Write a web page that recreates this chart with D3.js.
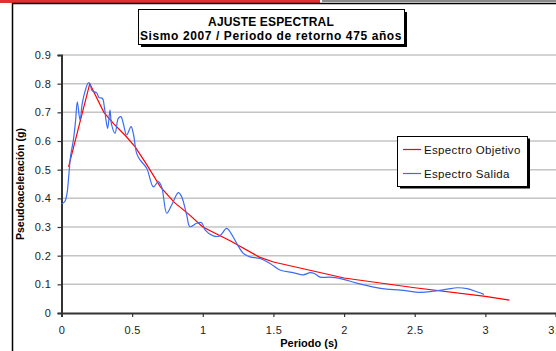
<!DOCTYPE html>
<html>
<head>
<meta charset="utf-8">
<script src="https://cdn.jsdelivr.net/npm/d3@7"></script>
<style>
  body { margin: 0; background: #fff; }
  svg { font-family: "Liberation Sans", Arial, sans-serif; }
</style>
</head>
<body>
<svg id="chart" width="556" height="351"></svg>
<script>
  // Espectro Objetivo (target spectrum)
  var objetivoT = [0.05, 0.2, 0.3, 0.37, 0.45, 0.52, 0.6, 0.7, 0.8, 0.9, 1.0, 1.2, 1.4, 1.5, 1.75, 2.0, 2.5, 3.0, 3.17];
  var objetivoSa = [0.51, 0.8, 0.70, 0.66, 0.62, 0.58, 0.52, 0.44, 0.385, 0.345, 0.30, 0.25, 0.195, 0.178, 0.15, 0.122, 0.088, 0.058, 0.045];

  // Espectro Salida (output spectrum)
  var salidaT = [0, 0.025, 0.04, 0.05, 0.065, 0.084, 0.1, 0.112, 0.131, 0.147, 0.166, 0.19, 0.2, 0.218, 0.249, 0.265,
    0.289, 0.303, 0.315, 0.327, 0.343, 0.355, 0.379, 0.402, 0.421, 0.437, 0.461, 0.492, 0.508, 0.532, 0.556,
    0.603, 0.65, 0.685, 0.709, 0.745, 0.78, 0.827, 0.85, 0.886, 0.909, 0.957, 0.992, 1.016, 1.074, 1.12,
    1.169, 1.2, 1.24, 1.287, 1.334, 1.405, 1.476, 1.546, 1.64, 1.711, 1.76, 1.79, 1.83, 1.9, 1.97, 2.09,
    2.21, 2.3, 2.4, 2.54, 2.63, 2.73, 2.8, 2.87, 2.94, 2.99];
  var salidaSa = [0.38, 0.39, 0.42, 0.47, 0.55, 0.603, 0.673, 0.737, 0.673, 0.731, 0.772, 0.803, 0.80, 0.775, 0.768, 0.752,
    0.749, 0.72, 0.673, 0.644, 0.708, 0.656, 0.627, 0.679, 0.685, 0.662, 0.621, 0.65, 0.627, 0.557, 0.534,
    0.505, 0.44, 0.458, 0.44, 0.348, 0.377, 0.42, 0.406, 0.342, 0.301, 0.313, 0.315, 0.29, 0.269, 0.269,
    0.295, 0.278, 0.243, 0.208, 0.196, 0.19, 0.173, 0.15, 0.141, 0.133, 0.141, 0.138, 0.125, 0.125, 0.121, 0.104,
    0.09, 0.083, 0.08, 0.072, 0.076, 0.083, 0.088, 0.085, 0.074, 0.065];

  var xTicks = [0, 0.5, 1, 1.5, 2, 2.5, 3, 3.5];
  var yTicks = [0, 0.1, 0.2, 0.3, 0.4, 0.5, 0.6, 0.7, 0.8, 0.9];

  var svg = d3.select("#chart");

  // top strip and outer frame
  svg.append("rect").attr("x", 0).attr("y", 0).attr("width", 320).attr("height", 3).attr("fill", "#e03030");
  svg.append("rect").attr("x", 322).attr("y", 0).attr("width", 234).attr("height", 2).attr("fill", "#8a8a8a");
  svg.append("line").attr("x1", 12.5).attr("x2", 12.5).attr("y1", 3).attr("y2", 351).attr("stroke", "#000").attr("stroke-width", 1.5);
  svg.append("line").attr("x1", 12).attr("x2", 556).attr("y1", 3.5).attr("y2", 3.5).attr("stroke", "#000").attr("stroke-width", 1.5);

  var x = d3.scaleLinear().domain([0, 3.5]).range([61.5, 556]);
  var y = d3.scaleLinear().domain([0, 0.9]).range([313, 55]);

  // gridlines
  svg.append("g")
    .selectAll("line")
    .data(yTicks.filter(function(d) { return d > 0; }))
    .enter()
    .append("line")
    .attr("x1", x(0)).attr("x2", 556)
    .attr("y1", function(d) { return y(d); })
    .attr("y2", function(d) { return y(d); })
    .attr("stroke", "#c4c4c4")
    .attr("stroke-width", 1.5);

  // axes
  var xAxis = svg.append("g")
    .attr("transform", "translate(0," + y(0) + ")")
    .call(d3.axisBottom(x).tickValues(xTicks).tickSize(4).tickFormat(d3.format("")));
  var yAxis = svg.append("g")
    .attr("transform", "translate(" + x(0) + ",0)")
    .call(d3.axisLeft(y).tickValues(yTicks).tickSize(4).tickFormat(d3.format("")));

  [xAxis, yAxis].forEach(function(a) {
    a.select(".domain").attr("stroke", "#333").attr("stroke-width", 2);
    a.selectAll(".tick line").attr("stroke", "#333").attr("stroke-width", 1.2);
    a.selectAll(".tick text").attr("fill", "#222").attr("font-size", "11px")
      .attr("letter-spacing", "0.4px")
      .attr("font-family", "Liberation Sans, Arial, sans-serif");
  });
  xAxis.selectAll(".tick text").attr("dy", "1.3em");
  yAxis.selectAll(".tick text").attr("dx", "-0.3em");

  // series
  var line = d3.line()
    .x(function(d) { return x(d[0]); })
    .y(function(d) { return y(d[1]); });

  svg.append("path")
    .datum(objetivoT.map(function(t, i) { return [t, objetivoSa[i]]; }))
    .attr("fill", "none")
    .attr("stroke", "#ff0000")
    .attr("stroke-width", 1.2)
    .attr("d", line);

  svg.append("path")
    .datum(salidaT.map(function(t, i) { return [t, salidaSa[i]]; }))
    .attr("fill", "none")
    .attr("stroke", "#3c6cf5")
    .attr("stroke-width", 1.2)
    .attr("d", line.curve(d3.curveCatmullRom.alpha(0.5)));

  // title box
  svg.append("rect").attr("x", 141).attr("y", 12).attr("width", 266).attr("height", 35).attr("fill", "#000");
  svg.append("rect").attr("x", 138.5).attr("y", 9.5).attr("width", 266).attr("height", 35)
    .attr("fill", "#fff").attr("stroke", "#000").attr("stroke-width", 1);
  svg.append("text").attr("x", 271).attr("y", 25.5).attr("text-anchor", "middle")
    .attr("font-size", "12px").attr("letter-spacing", "0.15px").attr("font-weight", "bold").text("AJUSTE ESPECTRAL");
  svg.append("text").attr("x", 271).attr("y", 39.5).attr("text-anchor", "middle")
    .attr("font-size", "12px").attr("letter-spacing", "0.6px").attr("font-weight", "bold").text("Sismo 2007 / Periodo de retorno 475 años");

  // legend
  svg.append("rect").attr("x", 400).attr("y", 138.5).attr("width", 130).attr("height", 50).attr("fill", "#000");
  svg.append("rect").attr("x", 397.5).attr("y", 136.5).attr("width", 130).attr("height", 50)
    .attr("fill", "#fff").attr("stroke", "#000").attr("stroke-width", 1);
  var legend = [["Espectro Objetivo", "#ff0000", 149.5], ["Espectro Salida", "#3c6cf5", 173.5]];
  legend.forEach(function(l) {
    svg.append("line").attr("x1", 403).attr("x2", 421).attr("y1", l[2]).attr("y2", l[2])
      .attr("stroke", l[1]).attr("stroke-width", 1.2);
    svg.append("text").attr("x", 424).attr("y", l[2] + 4).attr("font-size", "11.5px")
      .attr("letter-spacing", "0.35px").attr("fill", "#111").text(l[0]);
  });

  // axis titles
  svg.append("text").attr("x", 309).attr("y", 347).attr("text-anchor", "middle")
    .attr("font-size", "11px").attr("font-weight", "bold").text("Periodo (s)");
  svg.append("text").attr("transform", "translate(24,184) rotate(-90)").attr("text-anchor", "middle")
    .attr("font-size", "10.5px").attr("font-weight", "bold").text("Pseudoaceleración (g)");
</script>
</body>
</html>
